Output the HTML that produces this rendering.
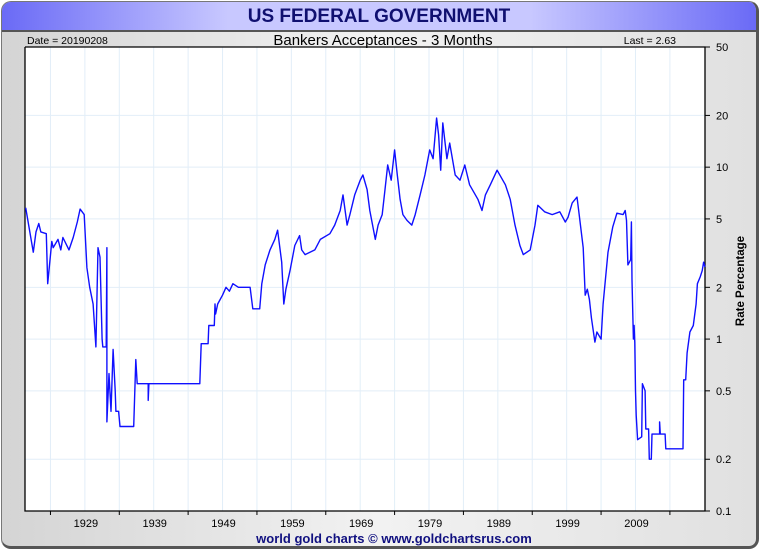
<!DOCTYPE html>
<html><head><meta charset="utf-8"><style>
body{margin:0;width:760px;height:550px;overflow:hidden;background:#fff;font-family:"Liberation Sans",sans-serif}
#frame{position:absolute;left:1px;top:1px;width:754px;height:544px;border:1px solid #777;border-right:3px solid #555;border-bottom:3px solid #555;border-radius:10px;background:linear-gradient(90deg,#d4d4d4,#f2f2f2 50%,#e0e0e0);overflow:hidden}
#titlebar{position:absolute;left:0;top:0;width:754px;height:28px;background:linear-gradient(90deg,#6a6af6,#c8c8ff 30%,#c8c8ff 70%,#6a6af6);border-bottom:2px solid #555;text-align:center;font-weight:bold;font-size:19px;line-height:30px;color:#101070}
</style></head><body>
<div id="frame">
<div id="titlebar">US FEDERAL GOVERNMENT</div>
</div>
<svg id="c" width="760" height="550" style="position:absolute;left:0;top:0"></svg>
<script>
const years=[1920.4,1921.5,1921.9,1922.3,1922.6,1923.4,1923.6,1924.2,1924.4,1925.1,1925.5,1925.8,1926.7,1927.3,1927.9,1928.3,1928.9,1929.3,1929.7,1930.2,1930.6,1930.9,1931.2,1931.5,1931.6,1932.1,1932.2,1932.2,1932.5,1932.8,1933.1,1933.4,1933.5,1933.9,1934.1,1936.1,1936.4,1936.6,1938.2,1938.2,1938.3,1945.7,1945.9,1946.9,1947.0,1947.8,1947.9,1948.0,1948.3,1949.0,1949.5,1950.0,1950.5,1951.3,1953.0,1953.4,1954.4,1954.7,1955.2,1955.9,1956.6,1957.0,1957.6,1957.9,1958.2,1958.8,1959.5,1960.2,1960.5,1961.0,1962.4,1963.2,1964.6,1965.3,1966.1,1966.5,1967.1,1967.5,1968.2,1969.0,1969.4,1970.0,1970.4,1971.2,1971.6,1972.2,1972.6,1973.0,1973.5,1974.0,1974.4,1974.8,1975.2,1975.8,1976.5,1977.0,1977.7,1978.4,1979.1,1979.6,1980.1,1980.4,1980.7,1981.0,1981.6,1982.0,1982.8,1983.5,1984.2,1984.9,1986.1,1986.7,1987.2,1987.9,1988.9,1990.1,1990.8,1991.5,1992.2,1992.7,1993.7,1994.4,1994.8,1995.8,1996.9,1998.0,1998.8,1999.2,1999.8,2000.5,2000.8,2001.4,2001.7,2002.0,2002.3,2002.6,2003.1,2003.4,2004.0,2004.3,2005.0,2005.7,2006.3,2007.2,2007.5,2007.7,2007.9,2008.3,2008.4,2008.5,2008.7,2008.8,2008.9,2009.0,2009.1,2009.3,2009.9,2010.0,2010.4,2010.5,2010.9,2011.0,2011.3,2011.4,2012.5,2012.5,2012.6,2013.3,2013.4,2015.9,2016.0,2016.3,2016.5,2016.9,2017.4,2017.8,2018.0,2018.4,2018.7,2018.9,2019.1];
const rates=[5.8,3.2,4.2,4.7,4.2,4.1,2.1,3.7,3.4,3.8,3.3,3.9,3.3,3.9,4.8,5.7,5.3,2.6,2.0,1.6,0.9,3.4,3.0,1.0,0.9,0.9,3.4,0.33,0.63,0.38,0.87,0.5,0.38,0.38,0.31,0.31,0.76,0.55,0.55,0.44,0.55,0.55,0.94,0.94,1.2,1.2,1.6,1.4,1.6,1.8,2.0,1.9,2.1,2.0,2.0,1.5,1.5,2.1,2.7,3.3,3.8,4.3,2.8,1.6,1.95,2.5,3.5,4.0,3.3,3.1,3.3,3.8,4.1,4.6,5.6,6.9,4.6,5.3,6.9,8.4,9.0,7.4,5.6,3.8,4.6,5.3,7.4,10.3,8.4,12.6,9.0,6.5,5.3,4.9,4.6,5.3,6.9,9.0,12.6,11.2,19.3,15.4,9.6,18.1,11.2,13.8,9.0,8.4,10.3,7.9,6.5,5.6,6.9,7.9,9.6,7.9,6.5,4.6,3.5,3.1,3.3,4.6,6.0,5.5,5.3,5.5,4.8,5.1,6.2,6.7,5.4,3.4,1.8,1.95,1.7,1.33,0.96,1.1,1.0,1.6,3.2,4.5,5.4,5.3,5.6,4.9,2.7,2.9,4.8,2.2,1.0,1.2,0.95,0.5,0.36,0.26,0.27,0.55,0.5,0.3,0.3,0.2,0.2,0.28,0.28,0.33,0.28,0.28,0.23,0.23,0.58,0.58,0.83,1.1,1.2,1.6,2.1,2.3,2.5,2.8,2.63];
const yTicks=[0.1,0.2,0.5,1,2,5,10,20,50];
const yTickLabels=["0.1","0.2","0.5","1","2","5","10","20","50"];
const xLabels=[1929,1939,1949,1959,1969,1979,1989,1999,2009];

const L=25,R=705,T=47,B=511,Y0=1920.3,Y1=2019.1;
const xs=y=>L+(y-Y0)/(Y1-Y0)*(R-L);
const ys=v=>B-(Math.log10(v)-Math.log10(0.1))/(Math.log10(50)-Math.log10(0.1))*(B-T);
const svg=document.getElementById('c');const NS='http://www.w3.org/2000/svg';
function mk(t,a,p){const e=document.createElementNS(NS,t);for(const k in a)e.setAttribute(k,a[k]);(p||svg).appendChild(e);return e;}
const bg=mk('rect',{x:L,y:T,width:R-L,height:B-T,fill:'#fff'});


for(let y=1924;y<2019;y+=5){const g=mk('line',{x1:xs(y),x2:xs(y),y1:T,y2:B,stroke:'#e2eef8','stroke-width':1});


if((y-1924)%10==0){const t=mk('line',{x1:xs(y),x2:xs(y),y1:B,y2:B+4,stroke:'#000'});

}}
yTicks.forEach((v,i)=>{const y=ys(v);
if(i>0&&i<yTicks.length-1){const g=mk('line',{x1:L,x2:R,y1:y,y2:y,stroke:'#e2eef8'});

}
const tk=mk('line',{x1:R,x2:R+5,y1:y,y2:y,stroke:'#000'});


const t=mk('text',{x:R+11,y:y+4,'font-size':11,fill:'#000'});t.textContent=yTickLabels[i];

});
xLabels.forEach(yr=>{const t=mk('text',{x:xs(yr)+1,y:527,'font-size':11,'text-anchor':'middle'});t.textContent=yr;

});
const ax=mk('path',{d:`M${L},${T}V${B}H${R}V${T}H${L}`,fill:'none',stroke:'#000','stroke-width':1.3});


let d='';years.forEach((y,i)=>{d+=(i?'L':'M')+xs(y).toFixed(1)+','+ys(rates[i]).toFixed(1);});
const ln=mk('path',{d:d,fill:'none',stroke:'#1010ff','stroke-width':1.4,'stroke-linejoin':'round'});


function txt(s,a,name){const t=mk('text',a);t.textContent=s;

}
txt('Date = 20190208',{x:27,y:44,'font-size':10.5},'date-label');
txt('Bankers Acceptances - 3 Months',{x:383,y:45,'font-size':15,'text-anchor':'middle'},'chart-subtitle');
txt('Last = 2.63',{x:676,y:44,'font-size':10.5,'text-anchor':'end'},'last-value-label');
txt('Rate Percentage',{x:0,y:0,'font-size':11.5,'font-weight':'bold',transform:'translate(744,281) rotate(-90)','text-anchor':'middle'},'y-axis-title');
txt('world gold charts \u00a9 www.goldchartsrus.com',{x:394,y:543,'font-size':13,'font-weight':'bold',fill:'#101080','text-anchor':'middle'},'footer-credit');
</script>
</body></html>
